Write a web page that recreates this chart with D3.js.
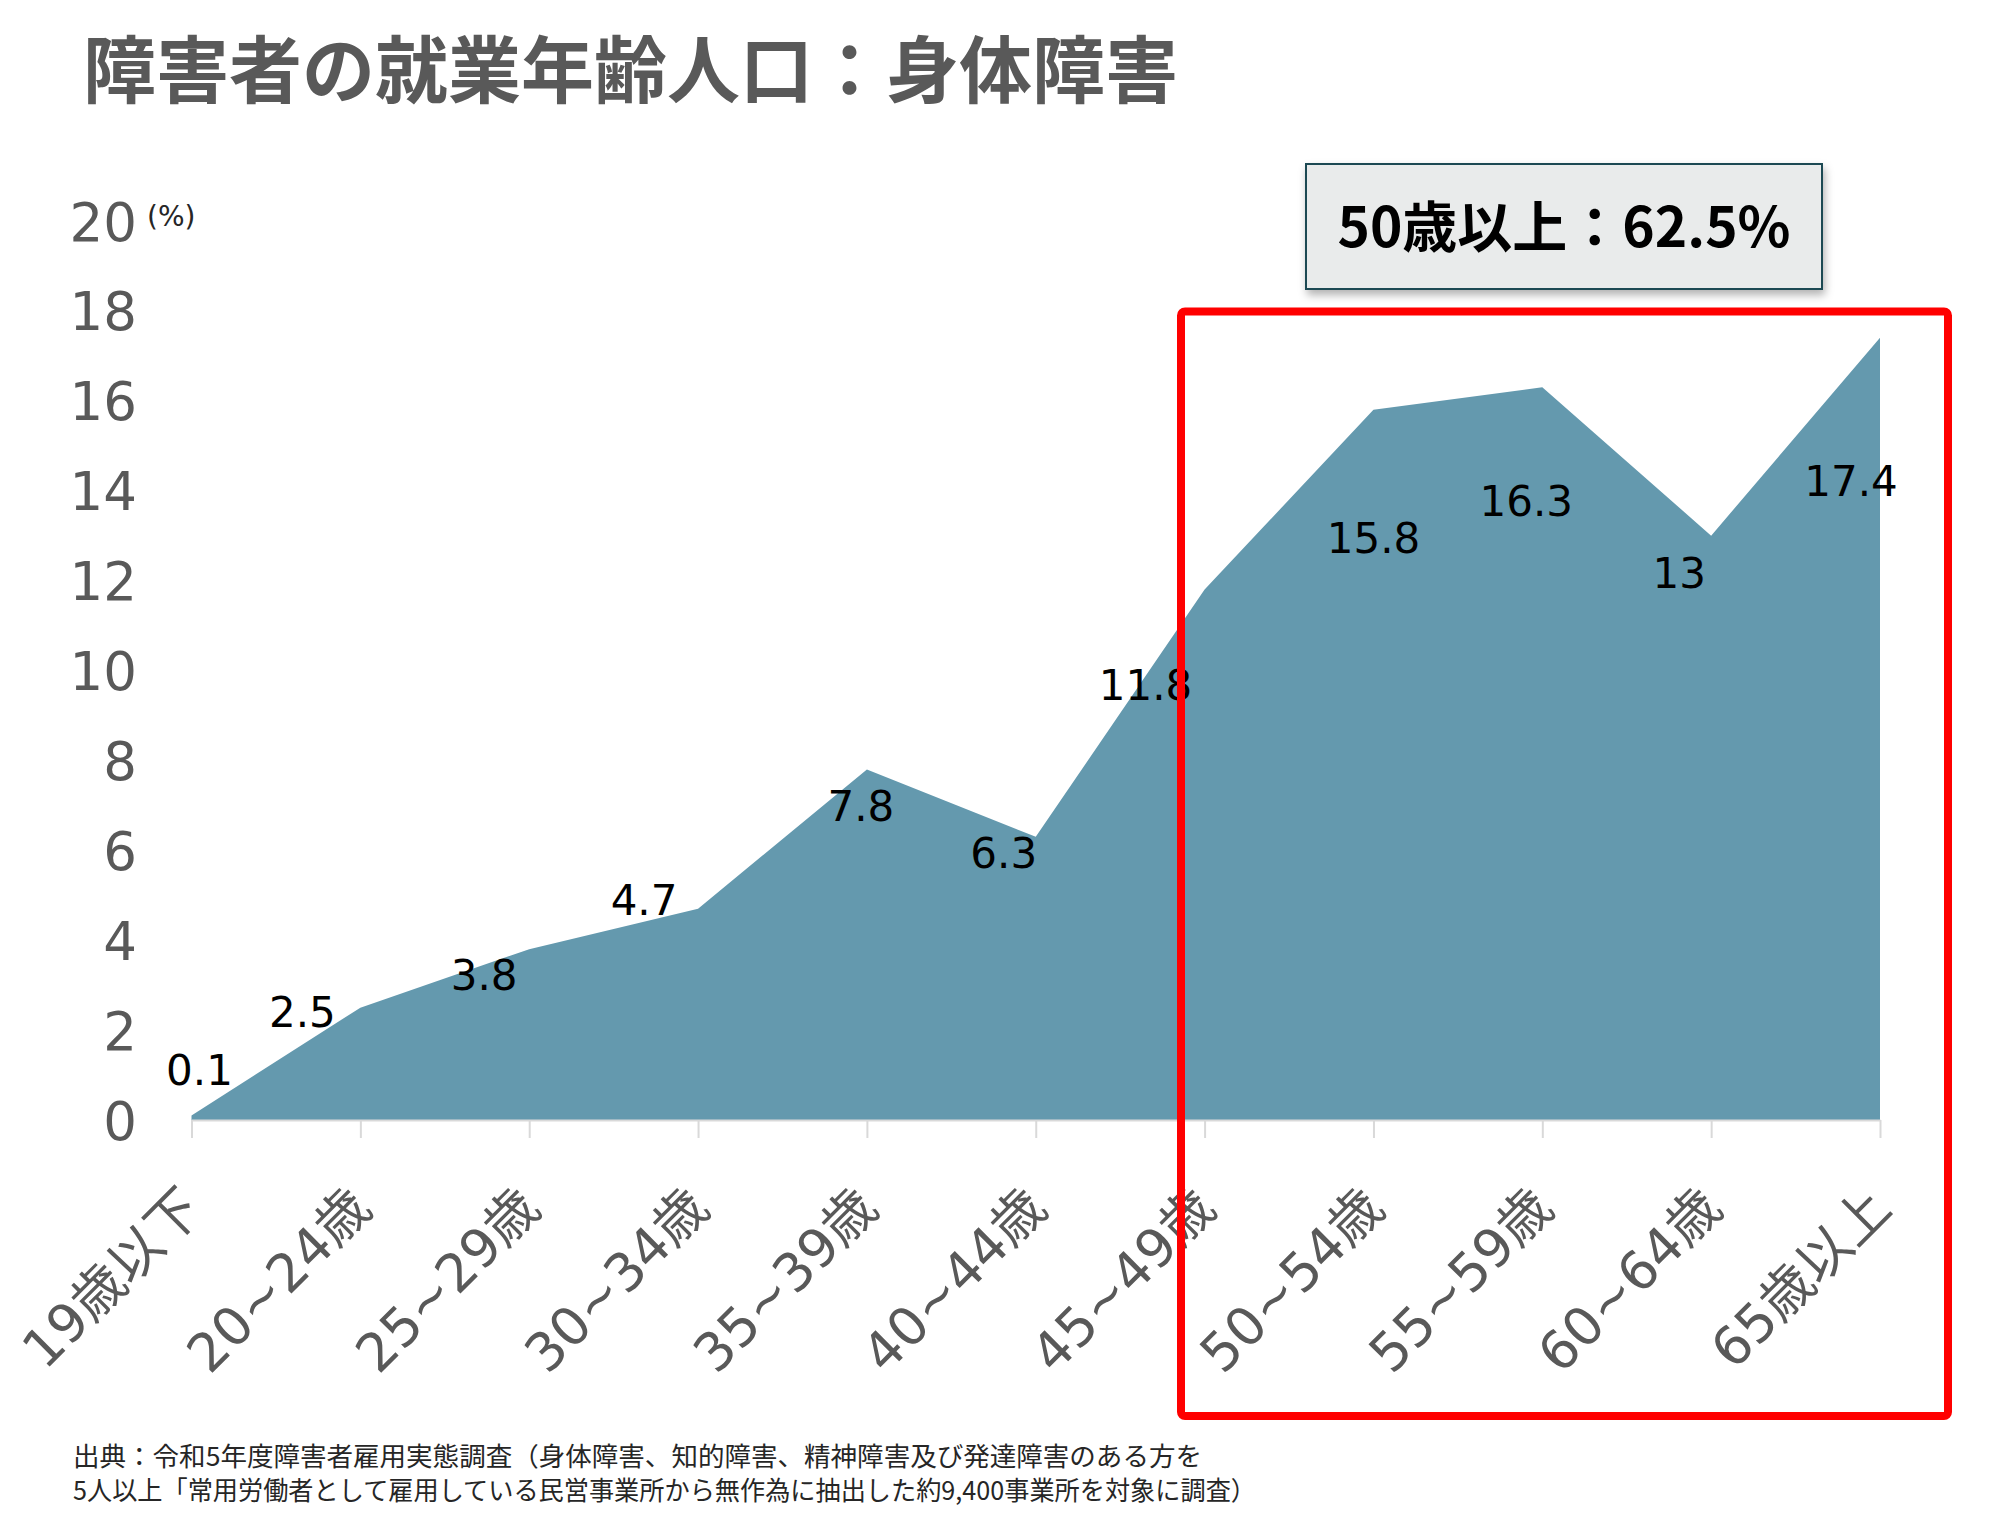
<!DOCTYPE html>
<html>
<head>
<meta charset="utf-8">
<script src="https://cdn.jsdelivr.net/npm/d3@7"></script>
<style>
  html, body { margin: 0; padding: 0; background: #ffffff; }
  svg { display: block; }
</style>
</head>
<body>
<svg id="chart" width="2000" height="1524"></svg>
<script>
// data
const ageGroups = ["19歳以下", "20~24歳", "25~29歳", "30~34歳", "35~39歳", "40~44歳",
                   "45~49歳", "50~54歳", "55~59歳", "60~64歳", "65歳以上"]
const shares = [0.1, 2.5, 3.8, 4.7, 7.8, 6.3, 11.8, 15.8, 16.3, 13, 17.4]
const yTicks = [0, 2, 4, 6, 8, 10, 12, 14, 16, 18, 20]

const titleText = "障害者の就業年齢人口：身体障害"
const calloutText = "50歳以上：62.5%"
const sourceLines = [
    "出典：令和5年度障害者雇用実態調査（身体障害、知的障害、精神障害及び発達障害のある方を",
    "5人以上「常用労働者として雇用している民営事業所から無作為に抽出した約9,400事業所を対象に調査）"
]

// hand placed label nudges (px), the original labels were moved by hand
const labelDx = [8, -58, -45, -54, -6, -32, -59, 0, -16, -32, -29]
const labelDy = [-46, 4, 26, -9, 36, 16, 95, 128, 114, 37, 143]

const latinFont = "'DejaVu Sans', 'Noto Sans CJK JP', sans-serif"
const cjkFont = "'Noto Sans CJK JP', sans-serif"
const grey = "#595959"

let svg = d3.select("#chart")

let xscale = d3.scalePoint().domain(ageGroups).range([191.5, 1880])
let yscale = d3.scaleLinear().domain([0, 20]).range([1120, 221])

// shadow for the callout box
let defs = svg.append("defs")
defs.append("filter")
    .attr("id", "boxShadow")
    .attr("x", "-10%").attr("y", "-10%")
    .attr("width", "125%").attr("height", "140%")
    .append("feDropShadow")
    .attr("dx", 2).attr("dy", 5)
    .attr("stdDeviation", 4)
    .attr("flood-color", "#000")
    .attr("flood-opacity", 0.3)

// title
svg.append("text")
    .attr("x", 83)
    .attr("y", 97)
    .style("font-family", cjkFont)
    .style("font-weight", 700)
    .style("font-size", "73px")
    .style("fill", grey)
    .text(titleText)

// area
let areaFunction = d3.area()
    .x((d, i) => xscale(ageGroups[i]))
    .y0(yscale(0))
    .y1(d => yscale(d))

svg.append("path")
    .datum(shares)
    .attr("d", areaFunction)
    .attr("fill", "#6499ae")

// x axis with rotated labels
let xAxis = d3.axisBottom(xscale).tickSizeInner(18).tickSizeOuter(0)
let gx = svg.append("g")
    .attr("transform", "translate(0," + yscale(0) + ")")
    .call(xAxis)
gx.select(".domain").attr("stroke", "#d9d9d9").attr("stroke-width", 2)
gx.selectAll(".tick line").attr("stroke", "#d9d9d9").attr("stroke-width", 2)
gx.selectAll(".tick text")
    .attr("x", 0)
    .attr("y", 0)
    .attr("dy", "0.35em")
    .attr("transform", "translate(0,78) rotate(-45)")
    .attr("text-anchor", "end")
    .style("font-family", latinFont)
    .style("font-size", "53px")
    .style("fill", grey)

// y axis
let yAxis = d3.axisLeft(yscale).tickValues(yTicks).tickSize(0).tickPadding(0)
let gy = svg.append("g")
    .attr("transform", "translate(137,0)")
    .call(yAxis)
gy.select(".domain").remove()
gy.selectAll(".tick text")
    .attr("dy", "0.36em")
    .style("font-family", latinFont)
    .style("font-size", "53px")
    .style("fill", grey)

svg.append("text")
    .attr("x", 147)
    .attr("y", 226)
    .style("font-family", latinFont)
    .style("font-size", "28px")
    .style("fill", "#262626")
    .text("(%)")

// data labels
svg.append("g")
    .selectAll("text")
    .data(shares)
    .enter()
    .append("text")
    .attr("x", (d, i) => xscale(ageGroups[i]) + labelDx[i])
    .attr("y", (d, i) => yscale(d) + labelDy[i])
    .attr("dy", "0.36em")
    .attr("text-anchor", "middle")
    .style("font-family", latinFont)
    .style("font-size", "42px")
    .style("fill", "#000")
    .text(d => d)

// callout box
svg.append("rect")
    .attr("x", 1306)
    .attr("y", 164)
    .attr("width", 516)
    .attr("height", 125)
    .attr("fill", "#e9ebeb")
    .attr("stroke", "#1f4a52")
    .attr("stroke-width", 2)
    .attr("filter", "url(#boxShadow)")

svg.append("text")
    .attr("x", 1564)
    .attr("y", 247)
    .attr("text-anchor", "middle")
    .style("font-family", cjkFont)
    .style("font-weight", 700)
    .style("font-size", "55px")
    .style("fill", "#000")
    .text(calloutText)

// red frame round 50+
svg.append("rect")
    .attr("x", 1181)
    .attr("y", 311.5)
    .attr("width", 767)
    .attr("height", 1104.5)
    .attr("rx", 4)
    .attr("fill", "none")
    .attr("stroke", "#ff0000")
    .attr("stroke-width", 8)

// source note
let sourceWidths = [1129, 1183]
svg.append("g")
    .selectAll("text")
    .data(sourceLines)
    .enter()
    .append("text")
    .attr("x", 73)
    .attr("y", (d, i) => 1466 + i * 34)
    .attr("textLength", (d, i) => sourceWidths[i])
    .attr("lengthAdjust", "spacingAndGlyphs")
    .style("font-family", cjkFont)
    .style("font-size", "26px")
    .style("fill", "#262626")
    .text(d => d)
</script>
</body>
</html>
